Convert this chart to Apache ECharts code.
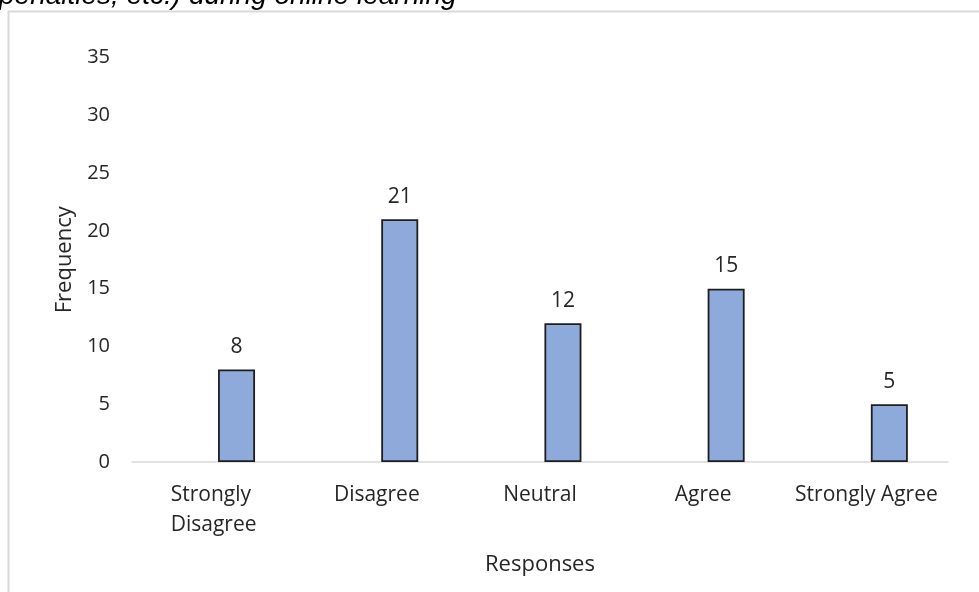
<!DOCTYPE html>
<html>
<head>
<meta charset="utf-8">
<script src="https://cdn.jsdelivr.net/npm/echarts@6/dist/echarts.min.js"></script>
<style>
  html, body { margin: 0; padding: 0; background: #ffffff; }
  #chart { width: 979px; height: 592px; }
</style>
</head>
<body>
<div id="chart"></div>
<script>
// Survey responses and how many respondents gave each one
const categories = ['Strongly Disagree', 'Disagree', 'Neutral', 'Agree', 'Strongly Agree'];
const frequency = [8, 21, 12, 15, 5];
// Empty companion series that holds the left slot of each category pair
const spacer = ['-', '-', '-', '-', '-'];
const yTicks = { min: 0, max: 35, interval: 5 };

const captionTail = 'penalties, etc.) during online learning';
const FONT = '"Open Sans", "Noto Sans", sans-serif';
const TEXT = '#262626';

const chart = echarts.init(document.getElementById('chart'), null, { renderer: 'canvas' });

chart.setOption({
  animation: false,
  backgroundColor: '#ffffff',
  textStyle: { fontFamily: FONT },
  graphic: [
    {
      type: 'rect',
      silent: true,
      shape: { x: 8.5, y: 11.5, width: 1100, height: 1000 },
      style: { fill: 'none', stroke: '#d9d9d9', lineWidth: 2 }
    },
    {
      type: 'text',
      silent: true,
      left: -1,
      top: -18,
      style: {
        text: captionTail,
        font: 'italic 28px "Liberation Sans", Arial, sans-serif',
        fill: '#000000'
      }
    }
  ],
  grid: { left: 132, right: 31, top: 57.5, bottom: 130, containLabel: false },
  xAxis: {
    type: 'category',
    data: categories,
    name: 'Responses',
    nameLocation: 'middle',
    nameGap: 92,
    nameTextStyle: { fontSize: 22, color: TEXT, fontFamily: FONT },
    axisLine: { lineStyle: { color: '#d9d9d9', width: 1.5 } },
    axisTick: { show: false },
    axisLabel: {
      interval: 0,
      margin: 18,
      fontSize: 21,
      lineHeight: 30,
      color: TEXT,
      fontFamily: FONT,
      width: 155,
      overflow: 'break'
    }
  },
  yAxis: {
    type: 'value',
    min: yTicks.min,
    max: yTicks.max,
    interval: yTicks.interval,
    name: 'Frequency',
    nameLocation: 'middle',
    nameGap: 54,
    nameRotate: 90,
    nameTextStyle: { fontSize: 22, color: TEXT, fontFamily: FONT },
    axisLine: { show: false },
    axisTick: { show: false },
    splitLine: { show: false },
    axisLabel: { margin: 22, fontSize: 20, color: TEXT, fontFamily: FONT }
  },
  series: [
    {
      name: 'spacer',
      type: 'bar',
      data: spacer,
      barWidth: 37,
      barGap: '24%',
      silent: true
    },
    {
      name: 'Frequency',
      type: 'bar',
      data: frequency,
      barWidth: 37,
      barGap: '24%',
      itemStyle: { color: '#8eaadb', borderColor: '#1e1e1e', borderWidth: 1.8 },
      label: {
        show: true,
        position: 'top',
        distance: 12,
        fontSize: 21,
        color: TEXT,
        fontFamily: FONT
      }
    }
  ]
});
</script>
</body>
</html>
